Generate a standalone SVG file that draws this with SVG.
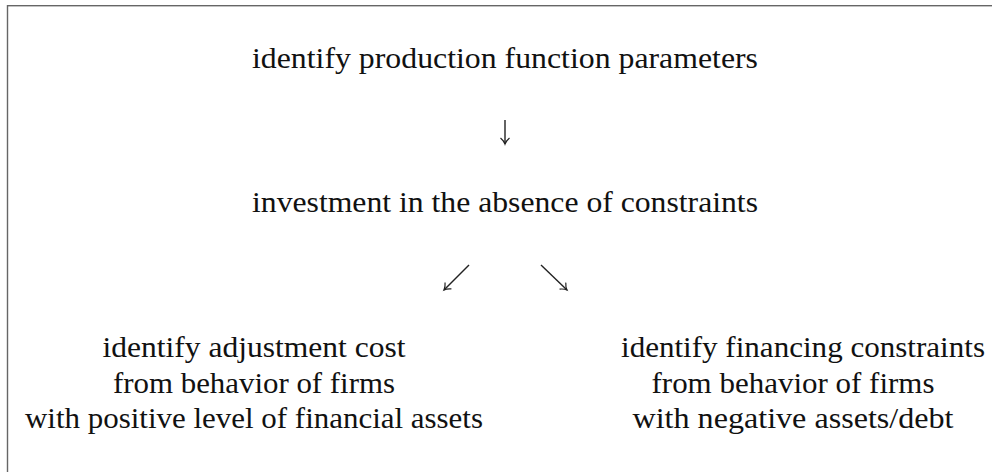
<svg xmlns="http://www.w3.org/2000/svg" width="992" height="472" viewBox="0 0 992 472">
<style>
.t{font-family:"Liberation Serif","Times New Roman",serif;font-size:30px;fill:#111;text-anchor:middle}
.c{stroke:#222;stroke-width:1.4;fill:none}
</style>
<defs>
<marker id="ah" markerWidth="12" markerHeight="12" refX="9" refY="6" orient="auto" markerUnits="userSpaceOnUse">
<path d="M3,1.5 Q6,5 9,6 Q6,7 3,10.5" fill="none" stroke="#222" stroke-width="1.2"/>
</marker>
</defs>
<rect x="7.5" y="5.7" width="1000" height="500" fill="none" stroke="#666" stroke-width="1.4"/>
<g id="n1"><text class="t" x="505" y="68" textLength="506" lengthAdjust="spacingAndGlyphs">identify production function parameters</text></g>
<g id="n2"><text class="t" x="505" y="212" textLength="506" lengthAdjust="spacingAndGlyphs">investment in the absence of constraints</text></g>
<g id="n3">
<text class="t" x="254" y="357" textLength="303" lengthAdjust="spacingAndGlyphs">identify adjustment cost</text>
<text class="t" x="254" y="393" textLength="282" lengthAdjust="spacingAndGlyphs">from behavior of firms</text>
<text class="t" x="254" y="428" textLength="458" lengthAdjust="spacingAndGlyphs">with positive level of financial assets</text>
</g>
<g id="n4">
<text class="t" x="803" y="357" textLength="364" lengthAdjust="spacingAndGlyphs">identify financing constraints</text>
<text class="t" x="793" y="393" textLength="283" lengthAdjust="spacingAndGlyphs">from behavior of firms</text>
<text class="t" x="793" y="428" textLength="321" lengthAdjust="spacingAndGlyphs">with negative assets/debt</text>
</g>
<g id="connectors">
<line class="c" x1="505" y1="120" x2="505" y2="144" marker-end="url(#ah)"/>
<line class="c" x1="469" y1="265" x2="444" y2="290" marker-end="url(#ah)"/>
<line class="c" x1="541" y1="265" x2="567" y2="290" marker-end="url(#ah)"/>
</g>
</svg>
